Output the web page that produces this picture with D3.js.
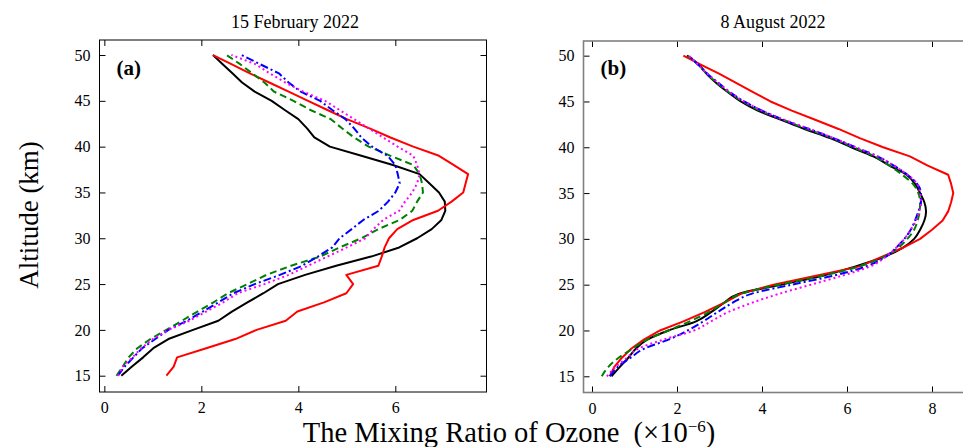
<!DOCTYPE html>
<html><head><meta charset="utf-8">
<script src="https://cdn.jsdelivr.net/npm/d3@7"></script>
<style>
html,body{margin:0;padding:0;background:#fff;overflow:hidden}
svg{display:block}
text{font-family:"Liberation Serif","Times New Roman",serif;fill:#000}
</style></head>
<body>
<svg id="chart" width="963" height="447"></svg>
<script>
// Altitude levels (km)
const altitudes = d3.range(15, 51);
const xTicksA = [0, 2, 4, 6];
const xTicksB = [0, 2, 4, 6, 8];
const yTicks = [15, 20, 25, 30, 35, 40, 45, 50];
const titles = ["15 February 2022", "8 August 2022"];
const panelLabels = ["(a)", "(b)"];

// Panel (a): 15 February 2022, ozone mixing ratio (ppmv) at 15..50 km
const febBlack   = [0.35,0.57,0.8,1.01,1.32,1.83,2.35,2.63,2.95,3.28,3.58,4.14,4.78,5.5,6.08,6.45,6.75,6.95,7.03,7.02,6.9,6.7,6.5,5.95,5.3,4.65,4.33,4.18,4.0,3.72,3.45,3.1,2.84,2.64,2.44,2.24];
const febRed     = [1.28,1.43,1.5,2.1,2.7,3.14,3.74,3.98,4.53,4.99,5.13,4.99,5.65,5.72,5.78,5.87,6.04,6.37,6.88,7.16,7.4,7.45,7.5,7.2,6.9,6.37,5.9,5.47,5.0,4.6,4.2,3.8,3.4,3.0,2.62,2.24];
const febGreen   = [0.25,0.38,0.5,0.68,0.95,1.28,1.6,1.92,2.25,2.55,2.95,3.34,3.85,4.45,4.85,5.3,5.65,6.09,6.35,6.45,6.57,6.55,6.5,6.37,5.9,5.45,5.15,4.9,4.67,4.25,3.9,3.5,3.3,3.05,2.8,2.52];
const febBlue    = [0.28,0.42,0.6,0.78,1.05,1.32,1.7,2.03,2.35,2.66,3.1,3.62,4.08,4.4,4.7,4.85,5.1,5.34,5.66,5.85,6.0,6.09,6.05,6.0,5.84,5.52,5.3,5.15,4.97,4.7,4.45,4.05,3.8,3.6,3.21,2.83];
const febMagenta = [0.28,0.38,0.58,0.76,1.0,1.32,1.75,2.1,2.45,2.75,3.3,3.8,4.2,4.6,5.0,5.38,5.55,5.75,6.08,6.2,6.35,6.45,6.5,6.45,6.37,6.05,5.75,5.45,5.15,4.85,4.55,4.1,3.73,3.41,3.12,2.62];

// Panel (b): 8 August 2022
const augBlack   = [0.46,0.65,0.85,1.03,1.3,1.8,2.45,2.8,3.1,3.45,4.45,5.45,6.2,6.85,7.3,7.58,7.72,7.82,7.86,7.82,7.72,7.6,7.4,7.0,6.62,6.1,5.6,5.0,4.45,3.9,3.5,3.2,2.93,2.7,2.52,2.23];
const augRed     = [0.42,0.52,0.7,0.92,1.22,1.6,2.15,2.65,3.1,3.5,4.27,5.3,6.3,6.8,7.3,7.72,8.0,8.25,8.38,8.45,8.5,8.45,8.38,7.9,7.48,6.85,6.3,5.8,5.25,4.7,4.2,3.8,3.4,3.0,2.57,2.15];
const augGreen   = [0.23,0.38,0.62,0.95,1.3,1.8,2.3,2.75,3.1,3.5,4.4,5.45,6.3,6.85,7.2,7.42,7.58,7.66,7.71,7.72,7.68,7.55,7.3,7.0,6.65,6.15,5.65,5.05,4.5,3.95,3.55,3.22,2.95,2.7,2.5,2.25];
const augBlue    = [0.42,0.6,0.9,1.22,1.8,2.25,2.62,2.95,3.3,3.75,4.7,5.7,6.45,6.9,7.15,7.35,7.5,7.6,7.68,7.74,7.74,7.65,7.42,7.1,6.72,6.2,5.68,5.1,4.5,4.0,3.58,3.25,2.98,2.72,2.5,2.28];
const augMagenta = [0.35,0.55,0.82,1.08,1.68,2.4,2.8,3.2,3.75,4.4,5.15,5.9,6.55,6.9,7.15,7.35,7.5,7.62,7.7,7.74,7.72,7.65,7.42,7.1,6.72,6.2,5.68,5.12,4.52,4.0,3.58,3.25,2.98,2.72,2.5,2.28];

const styles = [
  {color:"#000000", dash:null},
  {color:"#ff0000", dash:null},
  {color:"#008000", dash:"7,4"},
  {color:"#0000ff", dash:"8,3,2,3"},
  {color:"#ff00ff", dash:"2,3"}
];

const panels = [
  {series:[febBlack,febRed,febGreen,febBlue,febMagenta], left:99.5, right:486.5, top:40, bottom:392,
   xDom:[-0.1,7.88], xTicks:xTicksA, axisColor:"#000", axisW:1, yDom:[13.22,51.64], smooth:false},
  {series:[augBlack,augRed,augGreen,augBlue,augMagenta], left:583.5, right:970, top:41, bottom:392.5,
   xDom:[-0.2,8.894], xTicks:xTicksB, axisColor:"#808080", axisW:1.6, yDom:[13.23,51.6], smooth:true}
];

const svg = d3.select("#chart");

panels.forEach((p, i) => {
  const x = d3.scaleLinear().domain(p.xDom).range([p.left, p.right]);
  const y = d3.scaleLinear().domain(p.yDom).range([p.bottom, p.top]);
  const g = svg.append("g");

  const clipId = "clip" + i;
  svg.append("clipPath").attr("id", clipId).append("rect")
    .attr("x", p.left).attr("y", p.top).attr("width", p.right - p.left).attr("height", p.bottom - p.top);
  p.series.forEach((vals, k) => {
    const curve = (p.smooth && k !== 1) ? d3.curveMonotoneY : d3.curveLinear;
    const line = d3.line().x(d => x(d[0])).y(d => y(d[1])).curve(curve);
    const pts = vals.map((v, j) => [v, altitudes[j]]);
    g.append("path").datum(pts)
      .attr("d", line)
      .attr("fill", "none")
      .attr("stroke", styles[k].color)
      .attr("stroke-width", 2)
      .attr("stroke-dasharray", styles[k].dash)
      .attr("stroke-linejoin", "round")
      .attr("clip-path", `url(#${clipId})`);
  });

  // axes (inner ticks, mirrored)
  const bottomAx = d3.axisBottom(x).tickValues(p.xTicks).tickSize(-6).tickPadding(10).tickFormat(d3.format("d"));
  const topAx = d3.axisTop(x).tickValues(p.xTicks).tickSize(-6).tickFormat("");
  const leftAx = d3.axisLeft(y).tickValues(yTicks).tickSize(-6).tickPadding(9).tickFormat(d3.format("d"));
  const rightAx = d3.axisRight(y).tickValues(yTicks).tickSize(-6).tickFormat("");

  const gb = g.append("g").attr("transform", `translate(0,${p.bottom})`).call(bottomAx);
  const gt = g.append("g").attr("transform", `translate(0,${p.top})`).call(topAx);
  const gl = g.append("g").attr("transform", `translate(${p.left},0)`).call(leftAx);
  const gr = g.append("g").attr("transform", `translate(${p.right},0)`).call(rightAx);
  [gb, gt, gl, gr].forEach(a => {
    a.select(".domain").remove();
    a.selectAll(".tick line").attr("stroke", "#000").attr("stroke-width", 1);
    a.selectAll(".tick text").style("font-family", '"Liberation Serif","Times New Roman",serif')
      .style("font-size", "16px").attr("fill", "#000");
  });
  // frame
  g.append("rect").attr("x", p.left).attr("y", p.top)
    .attr("width", p.right - p.left).attr("height", p.bottom - p.top)
    .attr("fill", "none").attr("stroke", p.axisColor).attr("stroke-width", p.axisW);

  // title
  svg.append("text").attr("x", i === 0 ? 295 : 773).attr("y", 28)
    .attr("text-anchor", "middle").style("font-size", "18px").text(titles[i]);
  // panel label
  svg.append("text").attr("x", p.left + 17).attr("y", 75)
    .style("font-size", "21px").style("font-weight", "bold").text(panelLabels[i]);
});

// axis titles
svg.append("text").attr("transform", "translate(38,215) rotate(-90)")
  .attr("text-anchor", "middle").style("font-size", "27px").text("Altitude (km)");
const xl = svg.append("text").attr("x", 509).attr("y", 442).attr("text-anchor", "middle").style("font-size", "28.5px");
xl.append("tspan").text("The Mixing Ratio of Ozone\u00a0\u00a0(\u00d710");
xl.append("tspan").attr("dy", -10).style("font-size", "17px").text("\u22126");
xl.append("tspan").attr("dy", 10).text(")");
</script>
</body></html>
